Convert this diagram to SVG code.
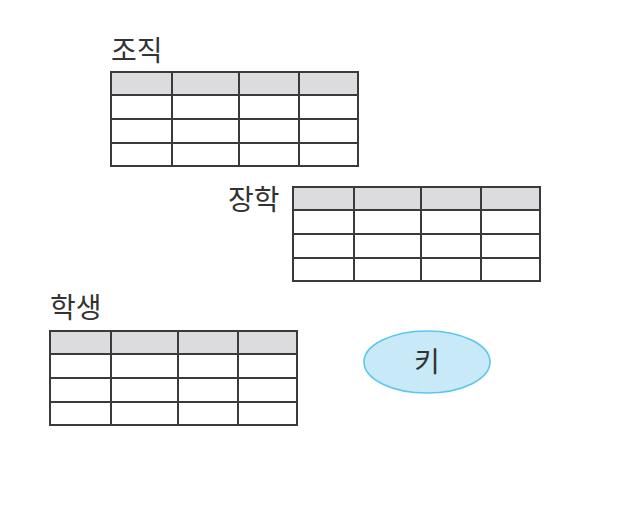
<svg xmlns="http://www.w3.org/2000/svg" width="618" height="511" viewBox="0 0 618 511">
<style>
.hdr{fill:#dcdcde;stroke:none}
.grid{fill:none;stroke:#3a3a3a;stroke-width:2}
.lbl{font-family:"Noto Sans CJK KR","Noto Sans",sans-serif;font-size:28px;fill:#333}
.key{fill:#c8eaf8;stroke:#5bc6ee;stroke-width:1.6}
</style>
<defs>
<g id="tbl">
<rect class="hdr" x="0" y="0" width="247" height="23"/>
<path class="grid" d="M0 0H247V94H0Z M0 23H247 M0 47H247 M0 71H247 M61 0V94 M128 0V94 M188 0V94"/>
</g>
</defs>
<rect width="618" height="511" fill="#fff"/>
<g id="node-jojik">
<text class="lbl" x="111" y="61">조직</text>
<use href="#tbl" x="111" y="72"/>
</g>
<g id="node-janghak">
<text class="lbl" x="228" y="210">장학</text>
<use href="#tbl" x="293" y="187"/>
</g>
<g id="node-haksaeng">
<text class="lbl" x="50" y="318">학생</text>
<use href="#tbl" x="50" y="331"/>
</g>
<g id="node-key">
<ellipse class="key" cx="427" cy="362" rx="63" ry="31"/>
<text class="lbl" x="427" y="372" text-anchor="middle" font-size="25">키</text>
</g>
<g id="connectors"/>
</svg>
